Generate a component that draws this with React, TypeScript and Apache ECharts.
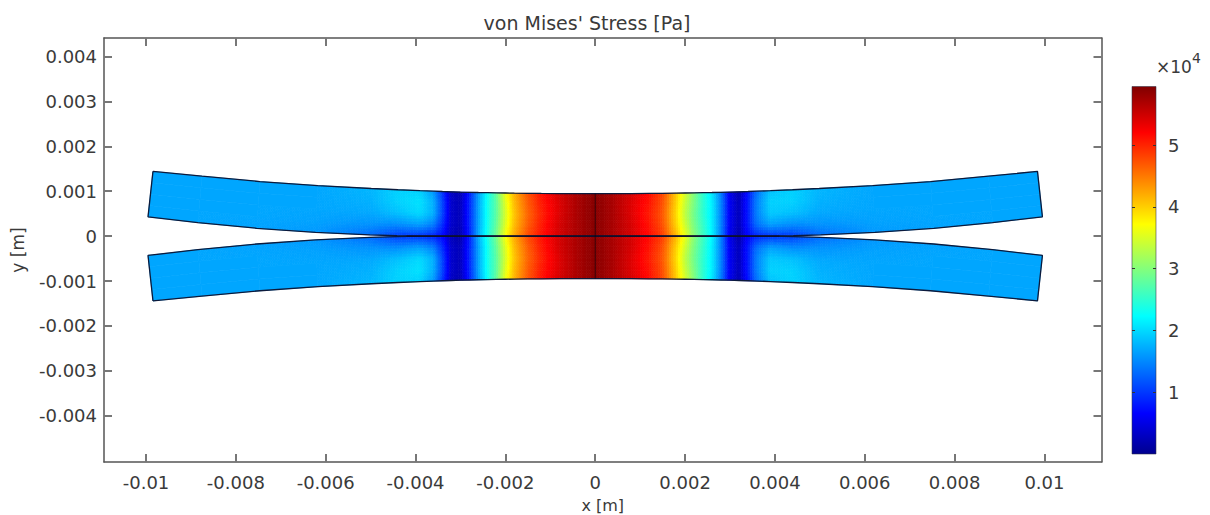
import React, { useEffect, useRef } from "react";
import * as echarts from "echarts";

// Stations along the beam length [mm]
const stationX = [-9.9,-8.8,-7.5,-6.2,-5.0,-4.4,-3.9,-3.6,-3.4,-3.2,-3.0,-2.8,-2.6,-2.4,-2.2,-2.0,-1.8,-1.5,-1.2,-0.8,-0.4,0,0.4,0.8,1.2,1.5,1.8,2.0,2.2,2.4,2.6,2.8,3.0,3.2,3.4,3.6,3.9,4.4,5.0,6.2,7.5,8.8,9.9];
// End-face tilt of each station [mm]
const stationSkew = [0.055,0.045,0.035,0.025,0.015,0.01,0,0,0,0,0,0,0,0,0,0,0,0,0,0,0,0,0,0,0,0,0,0,0,0,0,0,0,0,0,0,0,-0.01,-0.015,-0.025,-0.035,-0.045,-0.055];
// Outer and inner surface of the upper beam [mm]
const outerY = [1.44,1.335,1.215,1.125,1.06,1.032,1.011,1.0,0.993,0.987,0.981,0.976,0.971,0.967,0.963,0.96,0.957,0.953,0.95,0.947,0.945,0.945,0.945,0.947,0.95,0.953,0.957,0.96,0.963,0.967,0.971,0.976,0.981,0.987,0.993,1.0,1.011,1.032,1.06,1.125,1.215,1.335,1.44];
const innerY = [0.43,0.30,0.175,0.085,0.028,0.009,0,0,0,0,0,0,0,0,0,0,0,0,0,0,0,0,0,0,0,0,0,0,0,0,0,0,0,0,0,0,0,0.009,0.028,0.085,0.175,0.30,0.43];

// von Mises stress [1e4 Pa], read through the thickness, outer to inner surface
const stressOuter = [1.68,1.68,1.68,1.68,1.78,1.95,1.95,1.6,1.0,0.3,0.2,0.8,1.6,2.25,2.8,3.6,4.15,4.7,5.1,5.45,5.7,5.9,5.7,5.45,5.15,4.8,4.05,3.5,3.0,2.5,2.1,1.45,0.55,0.2,0.75,1.35,1.85,1.95,1.78,1.68,1.68,1.68,1.68];
const stressUpperMid = [1.68,1.68,1.68,1.68,1.75,1.95,2.05,1.75,1.1,0.35,0.25,0.85,1.65,2.3,2.75,3.5,4.1,4.65,5.05,5.4,5.7,5.9,5.7,5.4,5.1,4.75,4.0,3.4,2.95,2.5,2.15,1.5,0.6,0.25,0.8,1.45,1.95,1.95,1.75,1.68,1.68,1.68,1.68];
const stressMid = [1.68,1.68,1.68,1.68,1.7,1.85,2.0,1.75,1.1,0.35,0.25,0.85,1.65,2.3,2.75,3.45,4.05,4.6,5.0,5.4,5.7,5.9,5.7,5.4,5.05,4.7,3.95,3.35,2.9,2.5,2.15,1.5,0.6,0.25,0.8,1.45,1.9,1.85,1.7,1.68,1.68,1.68,1.68];
const stressLowerMid = [1.68,1.68,1.68,1.66,1.58,1.55,1.65,1.45,0.95,0.35,0.25,0.85,1.65,2.3,2.8,3.5,4.1,4.65,5.05,5.45,5.7,5.9,5.7,5.45,5.1,4.75,4.0,3.45,2.95,2.55,2.15,1.5,0.6,0.25,0.8,1.35,1.65,1.55,1.58,1.66,1.68,1.68,1.68];
const stressInner = [1.68,1.68,1.66,1.6,1.35,1.05,1.0,0.9,0.7,0.25,0.15,0.8,1.7,2.35,2.9,3.65,4.2,4.75,5.1,5.45,5.7,5.9,5.7,5.45,5.15,4.85,4.15,3.6,3.05,2.6,2.2,1.5,0.55,0.15,0.65,0.9,1.0,1.05,1.35,1.6,1.66,1.68,1.68];
const stressLayers = [stressOuter, stressUpperMid, stressMid, stressLowerMid, stressInner];

const xTicks = [-0.01,-0.008,-0.006,-0.004,-0.002,0,0.002,0.004,0.006,0.008,0.01];
const yTicks = [-0.004,-0.003,-0.002,-0.001,0,0.001,0.002,0.003,0.004];
const colorTicks = [1,2,3,4,5];
const colorRange = [0, 5.947];
const contactLine = [[-0.0042,0],[0.0041,0]];
const centreLine = [[0,0.000945],[0,-0.000945]];

const jetStops: [number, number[]][] = [
  [0,[0,0,143]],[0.11,[0,0,255]],[0.375,[0,255,255]],[0.625,[255,255,0]],[0.875,[255,0,0]],[1,[128,0,0]],
];
function jet(t: number): string {
  const u = Math.max(0, Math.min(1, t));
  for (let i = 1; i < jetStops.length; i++) {
    if (u <= jetStops[i][0]) {
      const [a, ca] = jetStops[i-1];
      const [b, cb] = jetStops[i];
      const f = (u-a)/(b-a);
      return `rgb(${ca.map((c,k)=>Math.round(c+(cb[k]-c)*f)).join(",")})`;
    }
  }
  return "rgb(128,0,0)";
}
const colorOf = (v: number) => jet((v-colorRange[0])/(colorRange[1]-colorRange[0]));

const thick = stressLayers.length - 1;
function meshPoint(s: number, l: number, beam: number): [number, number] {
  const sign = l / thick;
  const xm = stationX[s] + stationSkew[s]*(1-2*sign);
  const ym = outerY[s] + (innerY[s]-outerY[s])*sign;
  return [xm/1000, beam*ym/1000];
}

const cells: number[][] = [];
[1,-1].forEach(beam => {
  for (let s = 0; s < stationX.length-1; s++)
    for (let l = 0; l < thick; l++) cells.push([s,l,beam]);
});

function renderCell(_p: any, api: any) {
  const s = api.value(0), l = api.value(1), beam = api.value(2);
  const corners = [meshPoint(s,l,beam),meshPoint(s+1,l,beam),meshPoint(s+1,l+1,beam),meshPoint(s,l+1,beam)].map(p=>api.coord(p));
  const v00 = stressLayers[l][s], v10 = stressLayers[l][s+1], v11 = stressLayers[l+1][s+1], v01 = stressLayers[l+1][s];
  const flat = Math.max(v00,v10,v11,v01)-Math.min(v00,v10,v11,v01) < 0.015;
  const nx = flat ? 1 : Math.max(1, Math.ceil(Math.abs(corners[1][0]-corners[0][0])/2.5));
  const ny = flat ? 1 : 4;
  const bil = (u: number, w: number) => {
    const tx = corners[0][0]+(corners[1][0]-corners[0][0])*u, ty = corners[0][1]+(corners[1][1]-corners[0][1])*u;
    const bx = corners[3][0]+(corners[2][0]-corners[3][0])*u, by = corners[3][1]+(corners[2][1]-corners[3][1])*u;
    return [tx+(bx-tx)*w, ty+(by-ty)*w];
  };
  const children: any[] = [];
  for (let i = 0; i < nx; i++) for (let j = 0; j < ny; j++) {
    const u0=i/nx,u1=(i+1)/nx,w0=j/ny,w1=(j+1)/ny,uc=(u0+u1)/2,wc=(w0+w1)/2;
    const val=(v00*(1-uc)+v10*uc)*(1-wc)+(v01*(1-uc)+v11*uc)*wc;
    const c=colorOf(val);
    children.push({type:"polygon",shape:{points:[bil(u0,w0),bil(u1,w0),bil(u1,w1),bil(u0,w1)]},style:{fill:c,stroke:c,lineWidth:0.7}});
  }
  return {type:"group",children};
}

function renderColorBar(_p: any, api: any) {
  const a = api.coord([api.value(0), api.value(1)]);
  const b = api.coord([api.value(2), api.value(3)]);
  return {type:"rect",shape:{x:a[0],y:b[1],width:b[0]-a[0],height:a[1]-b[1]},
    style:{fill:{type:"linear",x:0,y:1,x2:0,y2:0,colorStops:jetStops.map(([o,c])=>({offset:o,color:`rgb(${c.join(",")})`}))},stroke:"rgba(50,50,70,0.55)",lineWidth:1}};
}

const outline = (beam: number) => {
  const pts: number[][] = [];
  for (let s = 0; s < stationX.length; s++) pts.push(meshPoint(s,0,beam));
  for (let s = stationX.length-1; s >= 0; s--) pts.push(meshPoint(s,thick,beam));
  pts.push(meshPoint(0,0,beam));
  return pts;
};

const font = "DejaVu Sans";
const textColor = "#3a3a3a";
const lineColor = "#555";
const tickStyle = {show:true,inside:true,length:8,lineStyle:{color:"#777",width:2}};
const xRange = [-0.010935, 0.01127];
const yRange = [-0.005027, 0.00441];

const App = () => {
  const ref = useRef<HTMLDivElement>(null);
  useEffect(() => {
    document.body.style.margin = "0";
    const chart = echarts.init(ref.current!, null, {renderer:"svg"});
    const lineSeries = (data: number[][], color: string, width: number) => ({
      type:"line",data,xAxisIndex:0,yAxisIndex:0,showSymbol:false,silent:true,z:5,
      lineStyle:{color,width},clip:false,
    });
    chart.setOption({
      animation:false,
      backgroundColor:"#fff",
      title:{text:"von Mises' Stress [Pa]",left:582,top:8,textAlign:"center",textStyle:{fontFamily:font,fontSize:19,fontWeight:"normal",color:textColor}},
      grid:[
        {left:104,top:38,width:997.5,height:424,containLabel:false,outerBoundsMode:"none"},
        {left:1132,top:86.5,width:24,height:367.5,containLabel:false,outerBoundsMode:"none"},
      ],
      xAxis:[
        {type:"value",gridIndex:0,position:"bottom",min:xRange[0],max:xRange[1],name:"x [m]",nameLocation:"middle",nameGap:35,
          nameTextStyle:{fontFamily:font,fontSize:16,color:textColor},
          axisLine:{onZero:false,lineStyle:{color:lineColor,width:1.5}},axisTick:{...tickStyle,customValues:xTicks},
          axisLabel:{customValues:xTicks,margin:11,fontFamily:font,fontSize:18,color:textColor,formatter:(v:number)=>String(v)},splitLine:{show:false}},
        {type:"value",gridIndex:0,position:"top",min:xRange[0],max:xRange[1],
          axisLine:{onZero:false,lineStyle:{color:lineColor,width:1.5}},axisTick:{...tickStyle,customValues:xTicks},axisLabel:{show:false},splitLine:{show:false}},
        {type:"value",gridIndex:1,min:0,max:1,show:false},
      ],
      yAxis:[
        {type:"value",gridIndex:0,position:"left",min:yRange[0],max:yRange[1],name:"y [m]",nameLocation:"middle",nameGap:77.5,
          nameTextStyle:{fontFamily:font,fontSize:17,color:textColor},
          axisLine:{onZero:false,lineStyle:{color:lineColor,width:1.5}},axisTick:{...tickStyle,customValues:yTicks},
          axisLabel:{customValues:yTicks,margin:7,fontFamily:font,fontSize:18,color:textColor,formatter:(v:number)=>String(v)},splitLine:{show:false}},
        {type:"value",gridIndex:0,position:"right",min:yRange[0],max:yRange[1],
          axisLine:{onZero:false,lineStyle:{color:lineColor,width:1.5}},axisTick:{...tickStyle,customValues:yTicks},axisLabel:{show:false},splitLine:{show:false}},
        {type:"value",gridIndex:1,position:"right",min:colorRange[0],max:colorRange[1],z:6,
          axisLine:{show:false,onZero:false},axisTick:{show:true,inside:true,length:3,lineStyle:{color:"#333",width:1},customValues:colorTicks},
          axisLabel:{customValues:colorTicks,margin:12,fontFamily:font,fontSize:18,color:textColor,formatter:(v:number)=>String(v)},splitLine:{show:false}},
        {type:"value",gridIndex:1,position:"left",min:colorRange[0],max:colorRange[1],z:6,
          axisLine:{show:false,onZero:false},axisTick:{show:true,inside:true,length:3,lineStyle:{color:"#333",width:1},customValues:colorTicks},
          axisLabel:{show:false},splitLine:{show:false}},
      ],
      graphic:[
        {type:"text",x:1156,y:66.5,style:{text:"×10",fontFamily:font,fontSize:17,fill:textColor,verticalAlign:"middle"}},
        {type:"text",x:1192,y:58,style:{text:"4",fontFamily:font,fontSize:14,fill:textColor,verticalAlign:"middle"}},
      ],
      series:[
        {type:"custom",xAxisIndex:0,yAxisIndex:0,data:cells,renderItem:renderCell,silent:true,clip:false,z:2},
        lineSeries(outline(1),"#0c1a3c",1.3),
        lineSeries(outline(-1),"#0c1a3c",1.3),
        lineSeries(contactLine,"rgba(15,10,35,0.85)",1.2),
        lineSeries(centreLine,"rgba(30,0,10,0.75)",1),
        {type:"custom",xAxisIndex:2,yAxisIndex:2,data:[[0,colorRange[0],1,colorRange[1]]],renderItem:renderColorBar,silent:true,z:2},
      ],
    });
    return () => chart.dispose();
  }, []);
  return <div ref={ref} style={{position:"absolute",left:0,top:0,width:1210,height:515}} />;
};
export default App;
